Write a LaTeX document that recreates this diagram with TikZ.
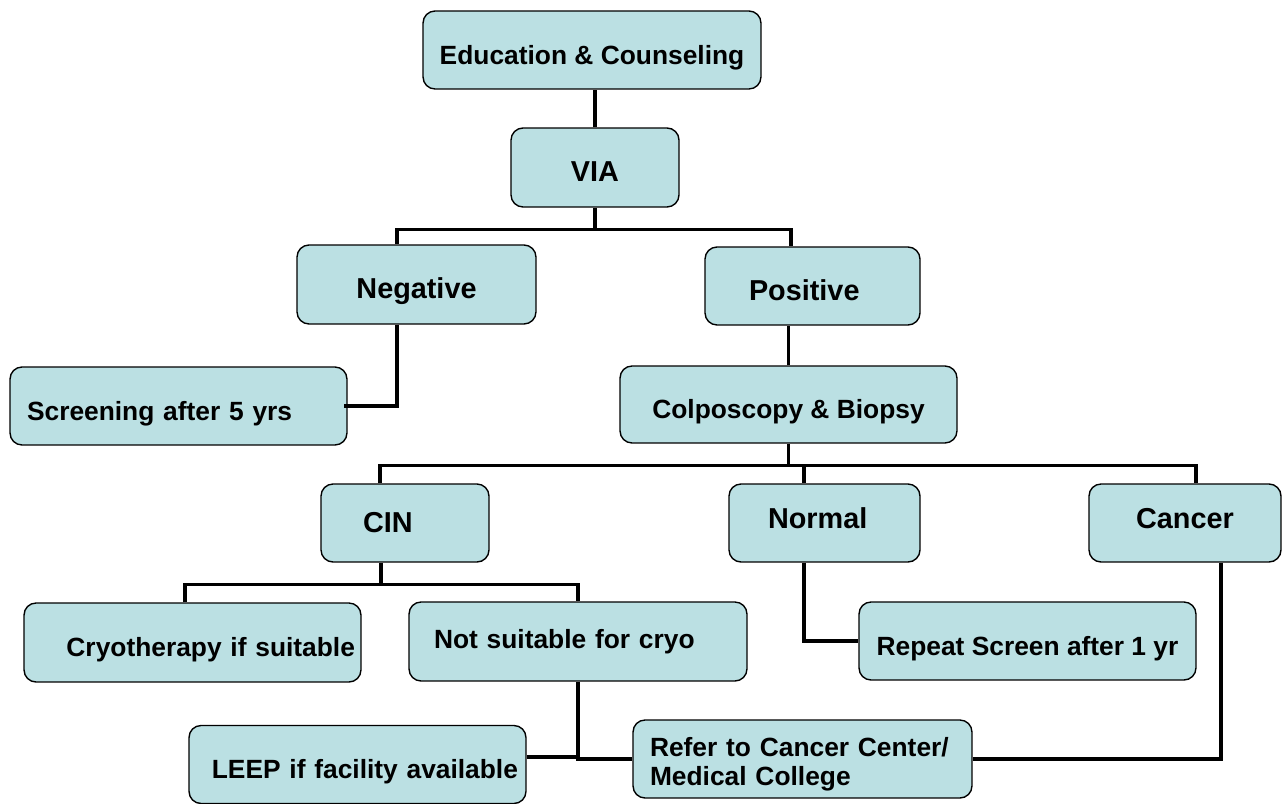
\documentclass[tikz,border=0pt]{standalone}
\usepackage{fontspec}
\setmainfont{Liberation Sans}
\usetikzlibrary{positioning}

\definecolor{boxfill}{RGB}{187,224,227}
\tikzset{
  flowbox/.style={draw, line width=0.8pt, fill=boxfill, rounded corners=0.24cm,
    minimum height=1.56cm, inner sep=0pt, font=\fontsize{15pt}{16.4pt}\selectfont\bfseries},
  bigtext/.style={font=\fontsize{16.4pt}{18pt}\selectfont\bfseries},
  lowtext/.style={text height=16.5pt, text depth=0pt},
  hightext/.style={text height=6.2pt, text depth=0pt},
  link/.style={line width=1.9pt}
}

\begin{document}
\begin{tikzpicture}[x=0.02cm, y=-0.02cm]
\useasboundingbox (0,0) rectangle (1285,804);

\node[flowbox, lowtext, minimum width=6.76cm] (edu) at (592,50) {Education \& Counseling};
\node[flowbox, bigtext, lowtext, minimum width=3.36cm, minimum height=1.58cm] (via) at (595,167.5) {VIA};

\node[flowbox, bigtext, lowtext, minimum width=4.78cm, minimum height=1.58cm] (neg) at (416.5,284.5) {Negative};
\node[flowbox, bigtext, lowtext, minimum width=4.3cm, text width=2.54cm, inner xsep=0.88cm, align=left] (pos) at (812.5,286) {Positive};

\node[flowbox, lowtext, minimum width=6.74cm, text width=6.06cm, inner xsep=0.34cm, align=left] (scr) at (178.5,406) {Screening after 5 yrs};
\node[flowbox, lowtext, minimum width=6.74cm, minimum height=1.54cm] (col) at (788.5,404.5) {Colposcopy \& Biopsy};

\node[flowbox, bigtext, minimum width=3.36cm, text width=1.68cm, inner xsep=0.84cm, align=left] (cin) at (405,523) {CIN};
\node[flowbox, bigtext, hightext, minimum width=3.82cm, text width=2.26cm, inner xsep=0.78cm, align=left] (nor) at (824.5,523) {Normal};
\node[flowbox, bigtext, hightext, minimum width=3.84cm] (can) at (1185,523) {Cancer};

\node[flowbox, lowtext, minimum width=6.74cm, minimum height=1.58cm, text width=6.5cm, inner xsep=0.12cm, align=right] (cry) at (192.5,642.5) {Cryotherapy if suitable};
\node[flowbox, minimum width=6.76cm, minimum height=1.58cm, text width=5.76cm, inner xsep=0.5cm, align=left] (nosuit) at (578,641.5) {Not suitable for cryo};
\node[flowbox, lowtext, minimum width=6.74cm] (rep) at (1027.5,641) {Repeat Screen after 1 yr};

% bottom row
\node[flowbox, lowtext, minimum width=6.74cm, text width=6.42cm, inner xsep=0.16cm, align=right] (leep) at (357.5,764.5) {LEEP if facility available};
\node[flowbox, text height=16.5pt, text depth=19.3pt, minimum width=6.78cm, text width=6.1cm, inner xsep=0.34cm, align=left] (ref) at (802.5,759) {Refer to Cancer Center/\\Medical College};

\draw[link] (via.north) -- (via.north |- edu.south);
\draw[link] (via.south) -- ++(0,22) coordinate (viaj);
\draw[link] ([xshift=-0.39cm]neg.north) |- (viaj) -| ([xshift=-0.43cm]pos.north);
\draw[link] ([xshift=-0.39cm]neg.south) |- ([xshift=-0.08cm]scr.east);
\draw[link] (col.north) -- (col.north |- pos.south);

\draw[link] (col.south) -- ++(0,22) coordinate (colj);
\draw[link] ([xshift=-0.5cm]cin.north) |- (colj) -| ([xshift=0.22cm]can.north);
\draw[link] (colj) -| ([xshift=-0.41cm]nor.north);

\draw[link] ([xshift=-0.48cm]cin.south) -- ++(0,22) coordinate (cinj);
\draw[link] ([xshift=-0.15cm]cry.north) |- (cinj) -| (nosuit.north);
\draw[link] ([xshift=-0.41cm]nor.south) |- (rep.west);

\draw[link] ([yshift=0.15cm]leep.east) -| (nosuit.south);
\draw[link] (nosuit.south) |- (ref.west);
\draw[link] ([xshift=0.72cm]can.south) |- (ref.east);

\end{tikzpicture}
\end{document}
